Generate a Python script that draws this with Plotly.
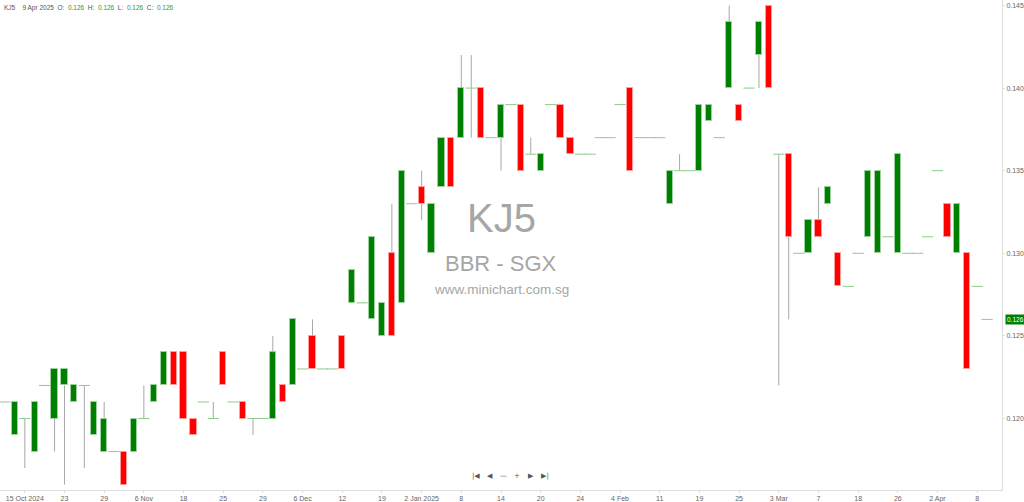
import plotly.graph_objects as go

# ---- data ----
opens = [0.121,0.119,0.120,0.118,0.122,0.120,0.122,0.121,0.122,0.119,
         0.118,0.118,0.118,0.118,0.120,0.121,0.122,0.124,0.124,0.120,
         0.121,0.120,0.124,0.121,0.121,0.120,0.120,0.120,0.122,0.122,
         0.123,0.125,0.123,0.123,0.125,0.127,0.127,0.126,0.125,0.130,
         0.127,0.133,0.134,0.130,0.134,0.137,0.137,0.140,0.140,0.137,
         0.137,0.139,0.139,0.136,0.135,0.139,0.139,0.137,0.136,0.136,
         0.137,0.137,0.139,0.140,0.137,0.137,0.137,0.133,0.135,0.135,
         0.135,0.138,0.137,0.140,0.139,0.140,0.142,0.145,0.136,0.136,
         0.130,0.130,0.132,0.133,0.130,0.128,0.130,0.131,0.130,0.131,
         0.130,0.130,0.130,0.131,0.135,0.133,0.130,0.130,0.128,0.126]
highs = [0.121,0.121,0.120,0.121,0.122,0.123,0.123,0.122,0.122,0.121,
         0.121,0.118,0.118,0.120,0.122,0.122,0.124,0.124,0.124,0.120,
         0.121,0.121,0.124,0.121,0.121,0.120,0.120,0.125,0.122,0.126,
         0.123,0.126,0.123,0.123,0.125,0.129,0.127,0.131,0.127,0.133,
         0.135,0.133,0.135,0.133,0.137,0.137,0.142,0.142,0.140,0.137,
         0.139,0.139,0.139,0.137,0.136,0.139,0.139,0.137,0.136,0.136,
         0.137,0.137,0.139,0.140,0.137,0.137,0.137,0.135,0.136,0.135,
         0.139,0.139,0.137,0.145,0.139,0.140,0.144,0.145,0.136,0.136,
         0.130,0.132,0.134,0.134,0.130,0.128,0.130,0.135,0.135,0.131,
         0.136,0.130,0.130,0.131,0.135,0.133,0.133,0.130,0.128,0.126]
lows = [0.121,0.119,0.117,0.118,0.122,0.118,0.116,0.121,0.117,0.119,
        0.118,0.118,0.116,0.118,0.120,0.121,0.122,0.122,0.120,0.119,
        0.121,0.120,0.122,0.121,0.120,0.119,0.120,0.120,0.121,0.122,
        0.123,0.123,0.123,0.123,0.123,0.127,0.127,0.126,0.125,0.125,
        0.127,0.133,0.132,0.130,0.134,0.134,0.137,0.137,0.137,0.137,
        0.135,0.139,0.135,0.136,0.135,0.139,0.137,0.136,0.136,0.136,
        0.137,0.137,0.139,0.135,0.137,0.137,0.137,0.133,0.135,0.135,
        0.135,0.138,0.137,0.140,0.138,0.140,0.140,0.140,0.122,0.126,
        0.130,0.130,0.131,0.133,0.128,0.128,0.130,0.131,0.130,0.131,
        0.130,0.130,0.130,0.131,0.135,0.131,0.130,0.123,0.128,0.126]
closes = [0.121,0.121,0.120,0.121,0.122,0.123,0.123,0.122,0.122,0.121,
          0.120,0.118,0.116,0.120,0.120,0.122,0.124,0.122,0.120,0.119,
          0.121,0.120,0.122,0.121,0.120,0.120,0.120,0.124,0.121,0.126,
          0.123,0.123,0.123,0.123,0.123,0.129,0.127,0.131,0.127,0.125,
          0.135,0.133,0.133,0.133,0.137,0.134,0.140,0.140,0.137,0.137,
          0.139,0.139,0.135,0.136,0.136,0.139,0.137,0.136,0.136,0.136,
          0.137,0.137,0.139,0.135,0.137,0.137,0.137,0.135,0.135,0.135,
          0.139,0.139,0.137,0.144,0.138,0.140,0.144,0.140,0.136,0.131,
          0.130,0.132,0.131,0.134,0.128,0.128,0.130,0.135,0.135,0.131,
          0.136,0.130,0.130,0.131,0.135,0.131,0.133,0.123,0.128,0.126]

tick_labels = ["15 Oct 2024", "23", "29", "6 Nov", "18", "25", "29", "6 Dec",
               "12", "19", "2 Jan 2025", "8", "14", "20", "24", "4 Feb", "11",
               "19", "25", "3 Mar", "7", "18", "26", "2 Apr", "8"]
price_ticks = [0.120, 0.125, 0.130, 0.135, 0.140, 0.145]
symbol = "KJ5"
last_date = "9 Apr 2025"
exchange = "BBR - SGX"
site = "www.minichart.com.sg"

# ---- derived ----
n = len(opens)
xs = list(range(n))
GREEN = "#008000"
RED = "#ff0000"

body_x, body_base, body_h, body_col, body_line = [], [], [], [], []
doji_x, doji_y = [], []
wx, wy = [], []
for i in xs:
    o, h, l, c = opens[i], highs[i], lows[i], closes[i]
    top, bot = max(o, c), min(o, c)
    if abs(c - o) < 1e-9:
        doji_x.append(i)
        doji_y.append(o)
    else:
        body_x.append(i)
        body_base.append(bot)
        body_h.append(top - bot)
        body_col.append(GREEN if c > o else RED)
        body_line.append("#9fd09f" if c > o else "#ff9c9c")
    if h > top + 1e-9:
        wx += [i, i, None]
        wy += [h, top, None]
    if l < bot - 1e-9:
        wx += [i, i, None]
        wy += [bot, l, None]

fig = go.Figure()
fig.add_trace(go.Scatter(x=wx, y=wy, mode="lines",
                         line=dict(color="#a8a8a8", width=1),
                         hoverinfo="skip", showlegend=False))
fig.add_trace(go.Bar(x=body_x, y=body_h, base=body_base, width=0.62,
                     marker=dict(color=body_col,
                                 line=dict(color=body_line, width=1)),
                     showlegend=False))
fig.add_trace(go.Scatter(x=doji_x, y=doji_y, mode="markers",
                         marker=dict(symbol="line-ew", size=8,
                                     line=dict(color="#8ccc8c", width=1)),
                         showlegend=False))

tick_idx = [2 + 4 * k for k in range(len(tick_labels))]

annotations = []
# watermark
annotations.append(dict(xref="paper", yref="paper", x=0.5, y=0.555,
                        text=symbol, showarrow=False,
                        font=dict(size=40, color="#a6a6a6",
                                  family="Liberation Sans, Arial")))
annotations.append(dict(xref="paper", yref="paper", x=0.5, y=0.463,
                        text=exchange, showarrow=False,
                        font=dict(size=22, color="#a6a6a6",
                                  family="Liberation Sans, Arial")))
annotations.append(dict(xref="paper", yref="paper", x=0.5, y=0.41,
                        text=site, showarrow=False,
                        font=dict(size=13.5, color="#a6a6a6",
                                  family="Liberation Sans, Arial")))
# header
g = "#2a9a2a"
def fmt(v):
    return f"{v:.3f}"
hdr = (f"{symbol}&nbsp;&nbsp;&nbsp;&nbsp;{last_date}&nbsp;&nbsp;O:&nbsp;&nbsp;"
       f"<span style='color:{g}'>{fmt(opens[-1])}</span>&nbsp;&nbsp;H:&nbsp;&nbsp;"
       f"<span style='color:{g}'>{fmt(highs[-1])}</span>&nbsp;&nbsp;L:&nbsp;&nbsp;"
       f"<span style='color:{g}'>{fmt(lows[-1])}</span>&nbsp;&nbsp;C:&nbsp;&nbsp;"
       f"<span style='color:{g}'>{fmt(closes[-1])}</span>")
annotations.append(dict(xref="paper", yref="paper", x=0.002, y=0.984,
                        xanchor="left", yanchor="middle", text=hdr,
                        showarrow=False,
                        font=dict(size=6.5, color="#555555",
                                  family="Liberation Sans, Arial")))
# last price tag
annotations.append(dict(xref="paper", yref="y", x=1.003, y=closes[-1],
                        xanchor="left", yanchor="middle", text=fmt(closes[-1]),
                        showarrow=False, bgcolor=GREEN, borderpad=1,
                        font=dict(size=6.5, color="white",
                                  family="Liberation Sans, Arial")))
# navigation buttons
nav = ["|◀", "◀", "—", "+", "▶", "▶|"]
nav_x = [476, 490, 503, 517, 531, 545]
for t, px in zip(nav, nav_x):
    annotations.append(dict(xref="paper", yref="paper", x=px / 1002, y=0.016,
                            text=t, showarrow=False,
                            font=dict(size=7, color="#555555",
                                      family="DejaVu Sans")))

fig.update_layout(
    width=1024, height=502,
    margin=dict(l=0, r=22, t=0, b=12),
    paper_bgcolor="white", plot_bgcolor="white",
    bargap=0, showlegend=False,
    annotations=annotations,
    font=dict(family="Liberation Sans, Arial", size=7, color="#666666"),
    xaxis=dict(range=[-0.5, 100.5], tickmode="array", tickvals=tick_idx,
               ticktext=tick_labels, showgrid=False, zeroline=False,
               showline=True, linecolor="#dddddd", linewidth=1,
               ticks="outside", ticklen=2, tickcolor="#dddddd",
               tickfont=dict(size=7, color="#666666")),
    yaxis=dict(range=[0.115672, 0.145333], side="right", tickmode="array",
               tickvals=price_ticks, ticktext=[f"{v:.3f}" for v in price_ticks],
               showgrid=False, zeroline=False, showline=True,
               linecolor="#dddddd", linewidth=1, ticks="outside", ticklen=2,
               tickcolor="#dddddd", tickfont=dict(size=7, color="#666666")),
)

fig.write_html("out.html", config={"displayModeBar": False},
               post_script="document.body.style.margin='0';")
